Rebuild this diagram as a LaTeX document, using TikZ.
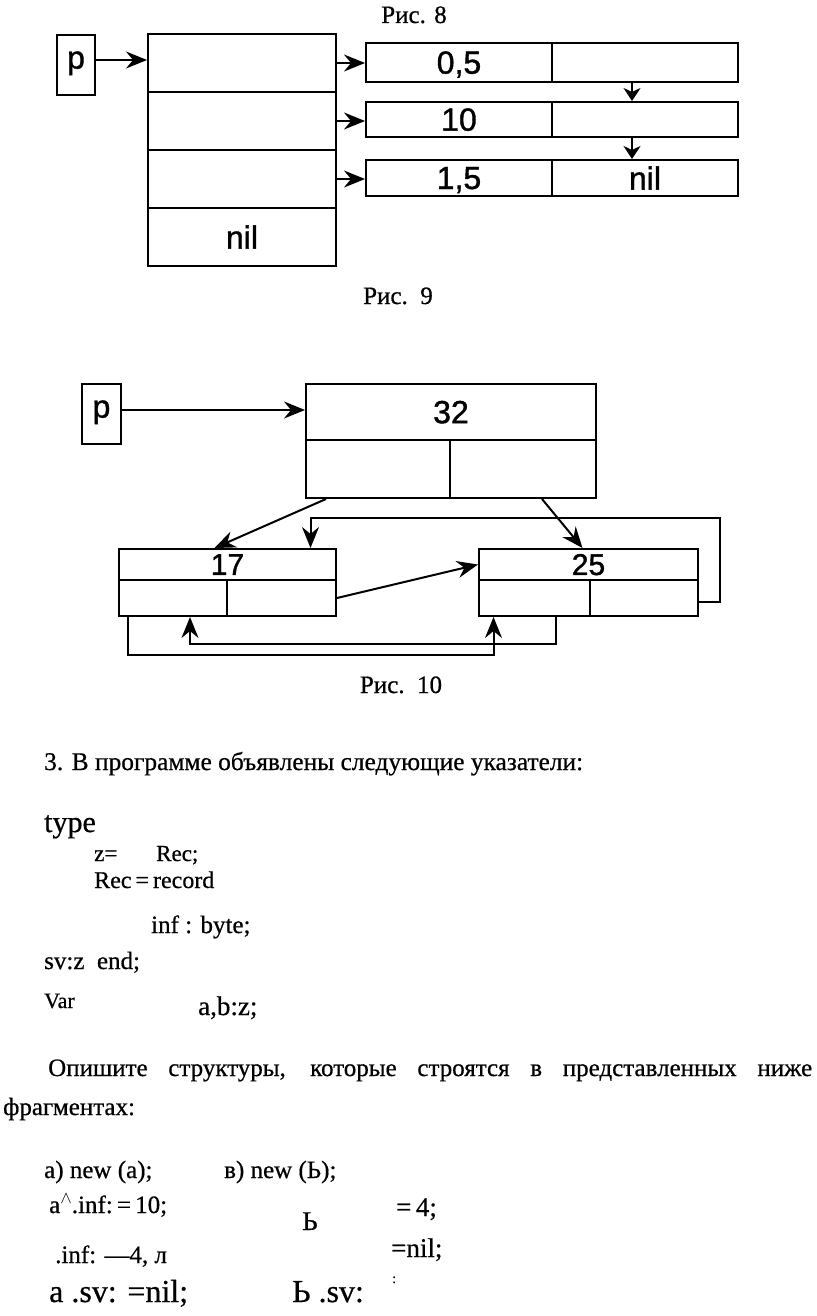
\documentclass[tikz,border=0pt]{standalone}
\usepackage{fontspec}
\setmainfont[FakeBold=0.6]{Liberation Serif}
\newfontfamily\diagsans[FakeBold=1.2]{Liberation Sans}
\usetikzlibrary{arrows.meta,positioning,calc}
\tikzset{
  rec/.style={draw, line width=2pt, inner sep=0pt, text depth=0pt, font=\diagsans\fontsize{32}{32}\selectfont},
  recs/.style={rec, font=\diagsans\fontsize{30}{30}\selectfont},
  ptr/.style={line width=2pt, -{Stealth[length=21pt,width=17pt,inset=7pt]}},
  ptrs/.style={line width=2pt, -{Stealth[length=13pt,width=17pt,inset=4pt]}},
  txt/.style={anchor=base west, inner sep=0pt, font=\fontsize{25}{30}\selectfont},
  figcap/.style={anchor=base, inner sep=0pt, font=\fontsize{25}{30}\selectfont}
}
\begin{document}
\begin{tikzpicture}[x=1pt,y=-1pt]
\useasboundingbox (0,0) rectangle (816,1316);
\fill[white] (0,0) rectangle (816,1316);
% Рис. 8 -- Рис. 9
\node[figcap] (cap8) at (414,23) {Рис. 8};
\node[rec, text depth=10pt, minimum width=38pt, minimum height=60pt] (p9) at (76,65) {p};
\node[rec, minimum width=188pt, minimum height=58pt] (arr1) at (242,63) {};
\node[rec, minimum width=188pt, minimum height=58pt] (arr2) at (242,121) {};
\node[rec, minimum width=188pt, minimum height=58pt] (arr3) at (242,179) {};
\node[rec, minimum width=188pt, minimum height=58pt] (arr4) at (242,237) {nil};
\node[rec, minimum width=186pt, minimum height=39pt] (r1a) at (459,62.5) {0,5};
\node[rec, minimum width=186pt, minimum height=39pt] (r1b) at (645,62.5) {};
\node[rec, minimum width=186pt, minimum height=35pt] (r2a) at (459,119.5) {10};
\node[rec, minimum width=186pt, minimum height=35pt] (r2b) at (645,119.5) {};
\node[rec, minimum width=186pt, minimum height=36pt] (r3a) at (459,178) {1,5};
\node[rec, minimum width=186pt, minimum height=36pt] (r3b) at (645,178) {nil};
\draw[ptr] ([yshift=5pt]p9.east) -- ([yshift=5pt]p9.east -| arr1.west);
\draw[ptr] (arr1.east) -- (arr1.east -| r1a.west);
\draw[ptr] (arr2.east) -- (arr2.east -| r2a.west);
\draw[ptr] (arr3.east) -- (arr3.east -| r3a.west);
\draw[ptrs] ([xshift=-13pt]r1b.south) -- ([xshift=-13pt]r2b.north);
\draw[ptrs] ([xshift=-13pt]r2b.south) -- ([xshift=-13pt]r3b.north);
\node[figcap] (cap9) at (398,304) {Рис.\enspace 9};
% Рис. 10
\node[rec, text depth=10pt, minimum width=39pt, minimum height=60pt] (p10) at (101.5,414) {p};
\node[rec, minimum width=290pt, minimum height=56pt] (t32) at (451,412) {32};
\node[rec, minimum width=144pt, minimum height=58pt] (tL) at (378,469) {};
\node[rec, minimum width=146pt, minimum height=58pt] (tR) at (523,469) {};
\node[recs, minimum width=217pt, minimum height=31pt] (n17) at (227.5,564.5) {17};
\node[recs, minimum width=108pt, minimum height=36pt] (b17L) at (173,598) {};
\node[recs, minimum width=109pt, minimum height=36pt] (b17R) at (281.5,598) {};
\node[recs, minimum width=219pt, minimum height=31pt] (n25) at (588.5,564.5) {25};
\node[recs, minimum width=111pt, minimum height=36pt] (b25L) at (534.5,598) {};
\node[recs, minimum width=108pt, minimum height=36pt] (b25R) at (644,598) {};
\draw[ptr] ([yshift=4pt]p10.east) -- ([yshift=4pt]p10.east -| t32.west);
\draw[ptr] ([xshift=-52pt]tL.south) -- ([xshift=-13pt]n17.north);
\draw[ptr] ([xshift=19pt]tR.south) -- ([xshift=-6pt]n25.north);
\draw[ptr] (b17R.east) -- (n25.west);
\draw[ptr] ([yshift=-4pt]b25R.east) -- ++(21,0) |- ([xshift=83pt,yshift=30pt]n17.north) -- ([xshift=83pt]n17.north);
\draw[ptr] ([xshift=21pt]b25L.south) -- ++(0,27) -| ([xshift=17pt]b17L.south);
\draw[ptr] ([xshift=-45pt]b17L.south) -- ++(0,38) -| ([xshift=-41pt]b25L.south);
\node[figcap] (cap10) at (401,693) {Рис.\enspace 10};
% text
\node[txt, font=\fontsize{25.4}{30}\selectfont] (task) at (44,770) {3. В программе объявлены следующие указатели:};
\node[txt, font=\fontsize{30}{30}\selectfont] (ty) at (44,832) {type};
\node[txt, font=\fontsize{23}{30}\selectfont] (ln1a) at (94,861) {z=};
\node[txt, font=\fontsize{23}{30}\selectfont] (ln1b) at (156,861) {Rec;};
\node[txt, font=\fontsize{24}{30}\selectfont] (ln2) at (94,888) {Rec\,=\,record};
\node[txt] (ln3) at (151,933) {inf : byte;};
\node[txt] (ln4) at (44,969) {sv:z\ \ end;};
\node[txt, font=\fontsize{22}{30}\selectfont] (ln5a) at (44,1008) {Var};
\node[txt, font=\fontsize{27}{30}\selectfont] (ln5b) at (198,1015) {a,b:z;};
\node[txt, text width=764pt, align=justify] (q1) at (48,1076) {\parfillskip=0pt Опишите структуры, которые строятся в представленных ниже\par};
\node[txt] (q2) at (3,1115) {фрагментах:};
\node[txt] (fa1) at (44,1178) {a) new (a);};
\node[txt] (fb1) at (224,1178) {в) new (Ь);};
\node[txt] (fa2) at (49,1213) {a\raisebox{10pt}{\fontsize{16}{16}\selectfont$\wedge$}.inf:\,=\,10;};
\node[txt, font=\fontsize{27}{30}\selectfont] (fb2a) at (302,1230) {Ь};
\node[txt, font=\fontsize{27}{30}\selectfont] (fb2b) at (396,1216) {=\,4;};
\node[txt] (fa3) at (55,1263) {.inf: —4, л};
\node[txt, font=\fontsize{27}{30}\selectfont] (fb3) at (391,1257) {=nil;};
\node[txt, font=\fontsize{32}{34}\selectfont] (fa4) at (49,1302) {a .sv: =nil;};
\node[txt, font=\fontsize{32}{34}\selectfont] (fb4) at (292,1302) {Ь .sv:};
\node[txt, font=\fontsize{14}{16}\selectfont] (fb4c) at (392,1283) {:};
\end{tikzpicture}
\end{document}
